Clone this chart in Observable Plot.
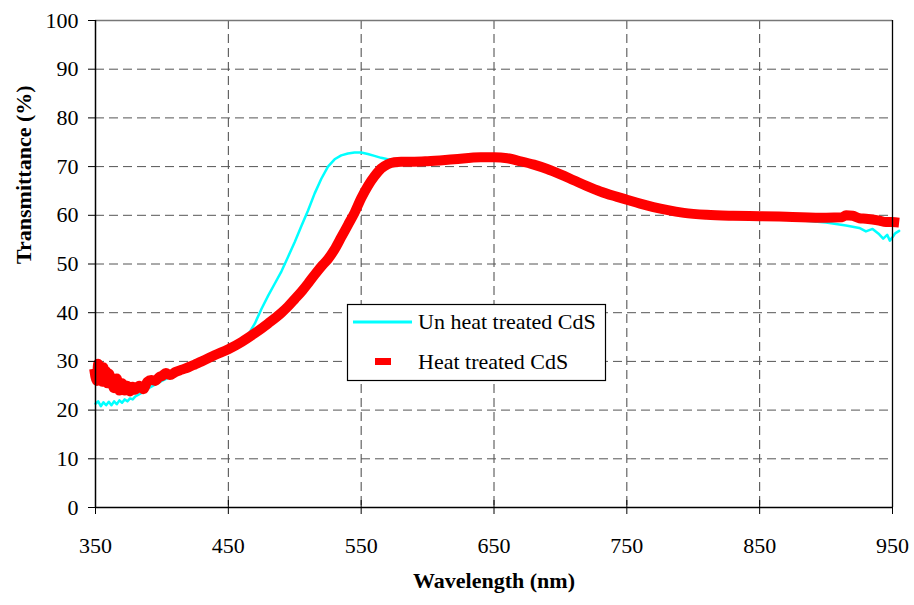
<!DOCTYPE html>
<html>
<head>
<meta charset="utf-8">
<script src="https://cdn.jsdelivr.net/npm/d3@7"></script>
<script src="https://cdn.jsdelivr.net/npm/@observablehq/plot@0.6"></script>
<style>
  html, body { margin: 0; padding: 0; background: #fff; }
  #chart { position: relative; width: 914px; height: 605px; }
</style>
</head>
<body>
<div id="chart"></div>
<script>
// ---- data ----
const seriesNames = ["Un heat treated CdS", "Heat treated CdS"];

const unheatedWavelength = [350,352,354,356,358,360,362,364,366,368,370,372,374,376,378,380,385,390,400,410,420,430,440,450,460,465,470,475,480,485,490,495,500,505,510,515,520,525,530,535,540,545,550,555,560,565,570,580,590,600,620,640,655,670,680,693,705,717,730,750,765,780,793,820,850,880,900,915,925,930,935,940,943,946,948,950,952,955];
const unheatedT = [21.3,21.8,20.8,21.6,21.0,21.7,21.0,21.8,21.2,22.0,21.5,22.2,21.8,22.4,22.2,22.8,23.6,24.5,26.0,27.3,28.6,30.0,31.3,32.6,34.3,35.5,37.8,40.8,43.5,46.0,48.5,51.5,54.5,57.8,61.0,64.5,67.5,70.0,71.5,72.3,72.7,72.9,72.9,72.6,72.2,71.8,71.5,71.2,71.0,71.1,71.5,71.9,71.6,70.9,70.2,68.9,67.3,65.8,64.5,63.0,62.0,61.1,60.4,59.8,59.4,59.0,58.5,57.9,57.4,56.7,57.2,56.1,55.2,56.0,54.8,55.5,56.3,56.8];

const heatedWavelength = [349,351,352,353,354,355,356,357,358,359,360,362,364,366,368,370,372,374,376,378,380,383,386,389,392,395,398,400,403,406,410,415,420,425,430,440,450,460,470,480,490,495,500,505,510,515,520,525,530,535,540,545,550,555,560,565,570,575,580,590,600,620,640,650,660,670,680,690,700,710,720,730,740,750,760,770,780,793,810,830,850,870,900,912,915,920,925,930,940,945,950,955];
const heatedT = [28.5,26.0,29.5,26.5,29.0,25.8,28.8,26.2,28.0,25.5,27.5,26.0,24.5,26.5,24.0,25.5,24.0,25.0,23.8,24.8,24.2,25.0,24.3,25.8,26.2,26.0,26.8,27.0,27.6,27.2,27.8,28.3,28.8,29.4,30.0,31.3,32.5,34.0,35.8,37.8,40.0,41.3,42.8,44.3,46.0,47.8,49.5,51.0,53.0,55.5,58.0,60.5,63.5,66.0,68.0,69.6,70.5,70.9,71.0,71.0,71.1,71.5,71.9,71.9,71.7,71.1,70.4,69.5,68.4,67.2,66.0,64.9,64.0,63.2,62.4,61.7,61.1,60.5,60.1,59.9,59.8,59.7,59.5,59.6,60.0,59.9,59.4,59.3,58.9,58.6,58.6,58.5];

const xTicks = [350,450,550,650,750,850,950];
const yTicks = [0,10,20,30,40,50,60,70,80,90,100];
const xTitle = "Wavelength (nm)";
const yTitle = "Transmittance (%)";

// ---- build tables ----
const unheated = unheatedWavelength.map((w, i) => ({w, t: unheatedT[i]}));
const heated = heatedWavelength.map((w, i) => ({w, t: heatedT[i]}));

const cyan = "#00ffff";
const red = "#ff0000";
const serif = "'Liberation Serif', 'Times New Roman', serif";
const fs = 22;

const svg = Plot.plot({
  width: 914,
  height: 605,
  marginLeft: 95,
  marginRight: 22,
  marginTop: 20,
  marginBottom: 98,
  style: {fontSize: fs + "px", background: "#fff", color: "#000"},
  x: {domain: [350, 950]},
  y: {domain: [0, 100]},
  marks: [
    Plot.gridX(xTicks.slice(1, -1), {stroke: "#444", strokeOpacity: 1, strokeWidth: 1, strokeDasharray: "9,5"}),
    Plot.gridY(yTicks.slice(1, -1), {stroke: "#555", strokeOpacity: 1, strokeWidth: 1, strokeDasharray: "9,5"}),
    Plot.ruleY([100], {stroke: "#777", strokeWidth: 1.5}),
    Plot.line(unheated, {x: "w", y: "t", stroke: cyan, strokeWidth: 2.5, curve: "linear"}),
    Plot.line(heated, {x: "w", y: "t", stroke: red, strokeWidth: 10, strokeLinecap: "butt", strokeLinejoin: "round", curve: "monotone-x"}),
    Plot.ruleX([950], {stroke: "#000", strokeWidth: 1.3}),
    Plot.ruleX([350], {stroke: "#000", strokeWidth: 1.5}),
    Plot.ruleY([0], {stroke: "#000", strokeWidth: 1.5}),
    Plot.axisX(xTicks, {tickSize: 7, tickPadding: 23, stroke: "#000", fill: "#000", label: null, fontSize: fs}),
    Plot.axisX(xTicks, {tickSize: -7, tickFormat: () => "", stroke: "#000", label: null}),
    Plot.axisY(yTicks, {tickSize: 7, tickPadding: 10, stroke: "#000", fill: "#000", label: null, fontSize: fs}),
    Plot.text([xTitle], {frameAnchor: "bottom", dy: 80, text: d => d, fontWeight: "bold", fontSize: fs, fill: "#000"}),
    Plot.text([yTitle], {frameAnchor: "left", dx: -72, rotate: -90, text: d => d, fontWeight: "bold", fontSize: fs, fill: "#000"})
  ]
});

document.getElementById("chart").appendChild(svg);
d3.select(svg).attr("font-family", serif);

// ---- legend box ----
const lg = d3.select(svg).append("g").attr("font-family", serif).attr("font-size", fs).attr("text-anchor", "start");
lg.append("rect").attr("x", 347.5).attr("y", 304.5).attr("width", 258).attr("height", 76)
  .attr("fill", "#fff").attr("stroke", "#000").attr("stroke-width", 1.2);
lg.append("line").attr("x1", 353).attr("x2", 412).attr("y1", 322).attr("y2", 322)
  .attr("stroke", cyan).attr("stroke-width", 3);
lg.append("text").attr("x", 418).attr("y", 329).attr("fill", "#000").text(seriesNames[0]);
lg.append("line").attr("x1", 375).attr("x2", 391).attr("y1", 361.5).attr("y2", 361.5)
  .attr("stroke", red).attr("stroke-width", 7);
lg.append("text").attr("x", 418).attr("y", 369).attr("fill", "#000").text(seriesNames[1]);

d3.select(svg).selectAll("text").attr("font-family", serif);
</script>
</body>
</html>
